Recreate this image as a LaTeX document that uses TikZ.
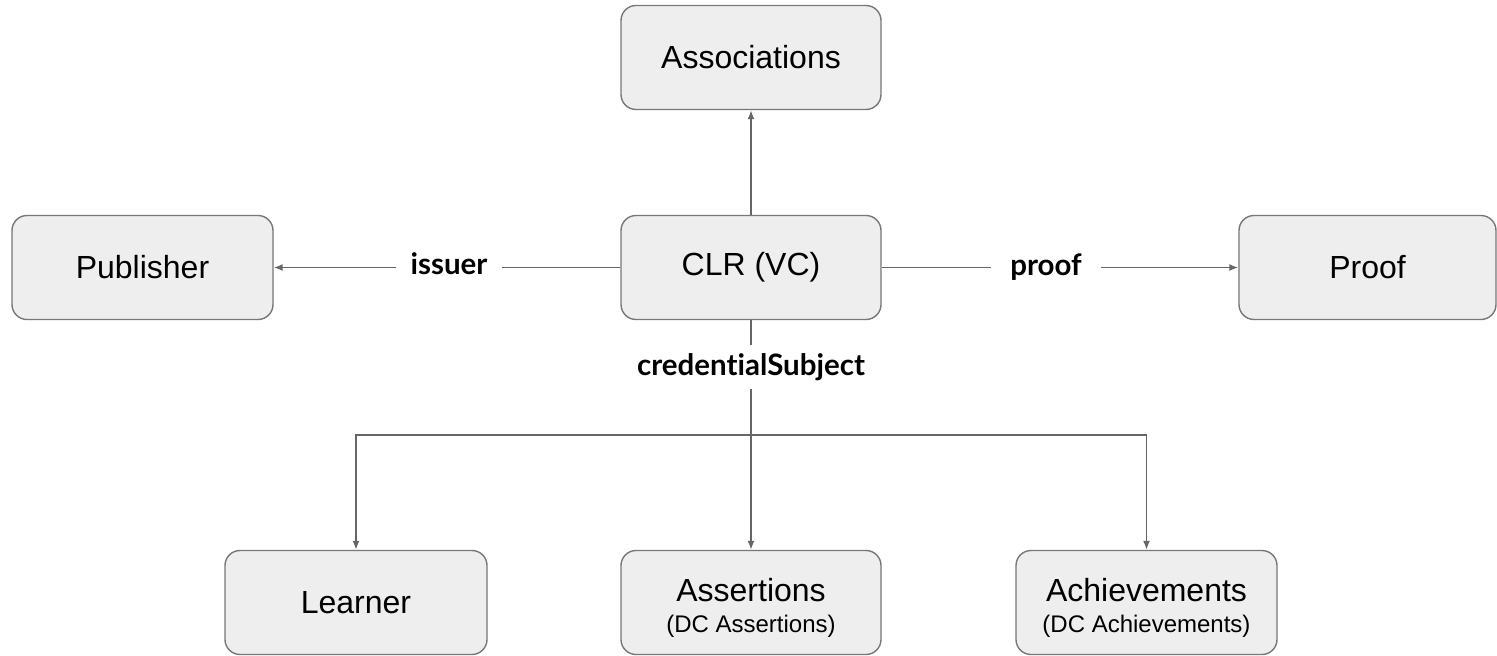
\documentclass[tikz,border=0pt]{standalone}
\usepackage{fontspec}
\setmainfont{Liberation Sans}
\newfontfamily\labfont[Ligatures=NoCommon]{Lato}
\usetikzlibrary{arrows.meta}
\definecolor{boxfill}{HTML}{EEEEEE}
\definecolor{boxline}{HTML}{777777}
\definecolor{conn}{HTML}{666666}
\begin{document}
\begin{tikzpicture}[x=1pt,y=-1pt,
  box/.style={draw=boxline, line width=1.4pt, fill=boxfill, rounded corners=15pt,
    minimum width=260pt, minimum height=104pt, inner sep=0pt, align=center,
    font=\fontsize{32}{35}\selectfont},
  lab/.style={fill=white, inner xsep=14pt, inner ysep=8pt,
    font=\labfont\bfseries\fontsize{29.5}{32}\selectfont},
  conline/.style={draw=conn, line width=1.5pt},
  arr/.style={conline, -{Latex[length=9pt,width=7pt]}}
]
\useasboundingbox (0,0) rectangle (1497,656);
\node[box] (assoc) at (751,57.5) {Associations};
\node[box, minimum width=261pt] (pub) at (142.5,267.5) {Publisher};
\node[box] (clr) at (751,267.5) {CLR (VC)};
\node[box, minimum width=257pt] (proof) at (1367.5,267.5) {Proof};
\node[box, minimum width=262pt] (learner) at (356,602.5) {Learner};
\node[box] (assert) at (751,602.5) {\rule{0pt}{33pt}Assertions\\[-4pt]{\fontsize{24}{27}\selectfont (DC Assertions)}};
\node[box, minimum width=261pt] (achieve) at (1146.5,602.5) {\rule{0pt}{33pt}Achievements\\[-4pt]{\fontsize{24}{27}\selectfont (DC Achievements)}};
\coordinate (j) at (751,435);
\draw[arr] (clr.north) -- (assoc.south);
\draw[arr] (clr.west) -- (pub.east);
\draw[arr] (clr.east) -- (proof.west);
\draw[conline] (clr.south) -- (j);
\draw[arr] (j) -| (learner.north);
\draw[arr] (j) -- (assert.north);
\draw[arr] (j) -| (achieve.north);
\node[lab, inner xsep=15pt] (liss) at (449,264) {issuer};
\node[lab, inner xsep=19pt] (lproof) at (1046,267) {proof};
\node[lab, inner xsep=12pt] (lcs) at (751,367) {credentialSubject};
\end{tikzpicture}
\end{document}
